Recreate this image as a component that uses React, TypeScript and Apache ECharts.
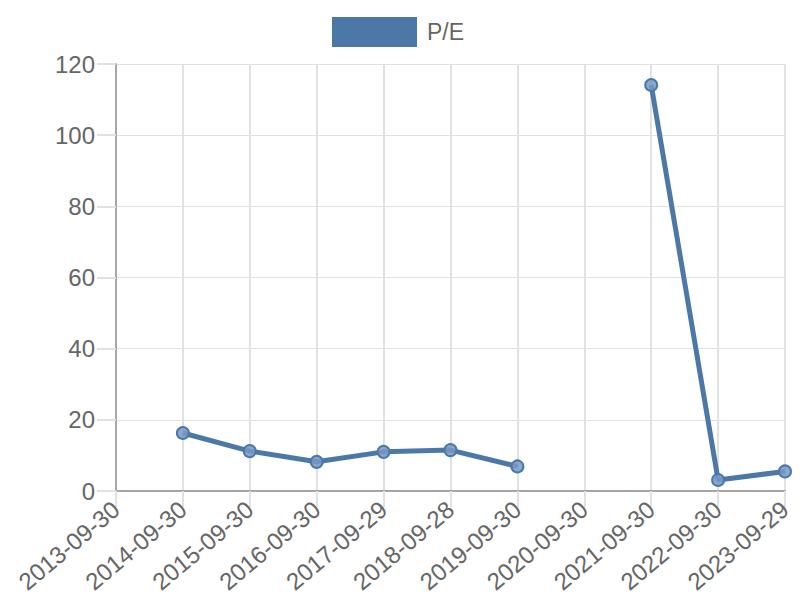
import React, { useEffect, useRef } from "react";
import * as echarts from "echarts";

const categories = [
  "2013-09-30",
  "2014-09-30",
  "2015-09-30",
  "2016-09-30",
  "2017-09-29",
  "2018-09-28",
  "2019-09-30",
  "2020-09-30",
  "2021-09-30",
  "2022-09-30",
  "2023-09-29",
];
const peValues: (number | null)[] = [null, 16.3, 11.2, 8.2, 11.0, 11.5, 6.9, null, 114.1, 3.1, 5.5];
const seriesName = "P/E";
const yTicks = { min: 0, max: 120, interval: 20 };

const FONT = "'Liberation Sans', Arial, Helvetica, sans-serif";
const TEXT = "#666666";
const GRID = "#e1e1e1";
const AXIS = "#a6a6a6";
const BLUE = "#4c78a8";

export default function App() {
  const ref = useRef<HTMLDivElement>(null);
  useEffect(() => {
    if (!ref.current) return;
    const chart = echarts.init(ref.current, undefined, { renderer: "svg" });
    chart.setOption({
      animation: false,
      textStyle: { fontFamily: FONT },
      legend: {
        top: 12,
        left: 327,
        icon: "rect",
        itemWidth: 85,
        itemHeight: 30,
        itemGap: 10,
        textStyle: { fontSize: 23, color: TEXT, fontFamily: FONT, padding: [0, 0, 0, 5] },
        itemStyle: { color: BLUE, borderWidth: 0, opacity: 1 },
        data: [seriesName],
      },
      grid: {
        left: 116,
        right: 15,
        top: 64,
        bottom: 109,
        containLabel: false,
        outerBoundsMode: "none",
      },
      xAxis: {
        type: "category",
        data: categories,
        boundaryGap: false,
        axisLine: { show: true, lineStyle: { color: AXIS, width: 2 } },
        axisTick: { show: true, length: 16, lineStyle: { color: GRID, width: 2 } },
        splitLine: { show: true, lineStyle: { color: GRID, width: 2 } },
        axisLabel: {
          rotate: 40,
          interval: 0,
          fontSize: 24,
          color: TEXT,
          fontFamily: FONT,
          margin: 15,
        },
      },
      yAxis: {
        type: "value",
        min: yTicks.min,
        max: yTicks.max,
        interval: yTicks.interval,
        axisLine: { show: true, lineStyle: { color: AXIS, width: 2 } },
        axisTick: { show: true, length: 19, lineStyle: { color: GRID, width: 2 } },
        splitLine: { show: true, lineStyle: { color: GRID, width: 1 } },
        axisLabel: { fontSize: 24, color: TEXT, fontFamily: FONT, margin: 21 },
      },
      series: [
        {
          name: seriesName,
          type: "line",
          data: peValues.map((v) => (v === null ? "-" : v)),
          connectNulls: false,
          symbol: "circle",
          symbolSize: 12,
          lineStyle: { color: BLUE, width: 5 },
          itemStyle: {
            color: "rgba(120,154,196,0.85)",
            borderColor: BLUE,
            borderWidth: 2,
          },
        },
      ],
    });
    return () => chart.dispose();
  }, []);
  return <div ref={ref} style={{ width: 800, height: 600, position: "absolute", left: 0, top: 0 }} />;
}
